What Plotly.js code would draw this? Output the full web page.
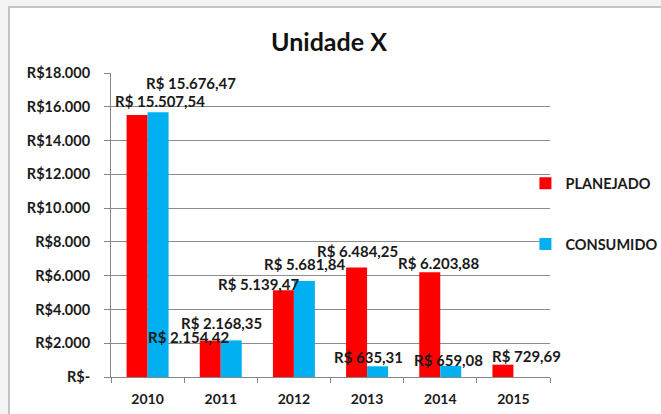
<!DOCTYPE html>
<html>
<head>
<meta charset="utf-8">
<script src="https://cdn.plot.ly/plotly-3.0.1.min.js"></script>
<style>
  html, body { margin: 0; padding: 0; background: #f3f3f3; width: 661px; height: 414px; overflow: hidden; }
  #frame { position: absolute; left: 8px; top: 6px; width: 653px; height: 408px; border-left: 2px solid #c4c4c4; border-top: 2px solid #c4c4c4; background: #ffffff; }
  #chart { width: 651px; height: 406px; }
</style>
</head>
<body>
<div id="frame"><div id="chart"></div></div>
<script>
// ---- data ----
const years = ['2010', '2011', '2012', '2013', '2014', '2015'];
const planejado = [15507.54, 2154.42, 5139.47, 6484.25, 6203.88, 729.69];
const consumido = [15676.47, 2168.35, 5681.84, 635.31, 659.08, null];
const yTickVals = [0, 2000, 4000, 6000, 8000, 10000, 12000, 14000, 16000, 18000];
const yTickText = ['R$-', 'R$2.000', 'R$4.000', 'R$6.000', 'R$8.000', 'R$10.000', 'R$12.000', 'R$14.000', 'R$16.000', 'R$18.000'];

// ---- label placement (styling: px offsets of label centre from category centre / bar top) ----
const planejadoLabelDx = [12, -32, -35, -10, -1, 13];
const planejadoLabelDy = [14, 4, 6, 16, 9, 9];
const consumidoLabelDx = [43, 1, 11, 1, 8, 0];
const consumidoLabelDy = [29, 17, 17, 9, 6, 0];

function brl(v) {
  const parts = v.toFixed(2).split('.');
  const intPart = parts[0].replace(/\B(?=(\d{3})+(?!\d))/g, '.');
  return 'R$ ' + intPart + ',' + parts[1];
}

const FONT = 'Lato, "Open Sans", sans-serif';
const labelFont = { family: FONT, size: 15, color: '#1a1a1a', weight: 'bold' };

const annotations = [];
function addLabels(vals, dx, dy) {
  vals.forEach((v, i) => {
    if (v === null || v === undefined) return;
    annotations.push({
      x: i, y: v, xref: 'x', yref: 'y',
      text: brl(v), showarrow: false,
      xanchor: 'center', yanchor: 'middle',
      xshift: dx[i], yshift: dy[i],
      font: labelFont
    });
  });
}
addLabels(planejado, planejadoLabelDx, planejadoLabelDy);
addLabels(consumido, consumidoLabelDx, consumidoLabelDy);

const traces = [
  { type: 'bar', name: 'PLANEJADO', x: years, y: planejado, marker: { color: '#ff0000' }, legendgroup: 'a', hoverinfo: 'none' },
  { type: 'bar', name: 'CONSUMIDO', x: years, y: consumido, marker: { color: '#00b0f0' }, legendgroup: 'b', hoverinfo: 'none' }
];

const layout = {
  width: 651, height: 406,
  margin: { l: 101, r: 111, t: 65, b: 37, autoexpand: false },
  paper_bgcolor: '#ffffff', plot_bgcolor: '#ffffff',
  title: { text: 'Unidade X', font: { family: FONT, size: 25, color: '#111111', weight: 'bold' }, x: 0.49, xanchor: 'center', y: 0.916, yanchor: 'middle', yref: 'container' },
  barmode: 'group', bargap: 0.426, bargroupgap: 0,
  xaxis: {
    type: 'category', categoryarray: years, range: [-0.5, 5.5], autorange: false,
    tickson: 'boundaries', ticks: 'outside', ticklen: 5, tickcolor: '#868686',
    ticklabelstandoff: 9,
    showline: true, linecolor: '#868686', linewidth: 1, showgrid: false,
    tickfont: { family: FONT, size: 14, color: '#1a1a1a', weight: 'bold' }
  },
  yaxis: {
    range: [0, 18000], autorange: false, tickvals: yTickVals, ticktext: yTickText,
    ticks: 'outside', ticklen: 6, tickcolor: '#868686', ticklabelstandoff: 11,
    showline: true, linecolor: '#868686', linewidth: 1,
    showgrid: true, gridcolor: '#8c8c8c', gridwidth: 1, zeroline: false,
    tickfont: { family: FONT, size: 14.5, color: '#1a1a1a', weight: 'bold' }
  },
  showlegend: true,
  legend: {
    x: 0.944, xanchor: 'left', y: 0.69, yanchor: 'top',
    traceorder: 'grouped', tracegroupgap: 39, itemwidth: 30,
    font: { family: FONT, size: 14.5, color: '#1a1a1a', weight: 'bold' },
    bgcolor: 'rgba(0,0,0,0)'
  },
  annotations: annotations
};

Plotly.newPlot('chart', traces, layout, { displayModeBar: false, staticPlot: true });
</script>
</body>
</html>
